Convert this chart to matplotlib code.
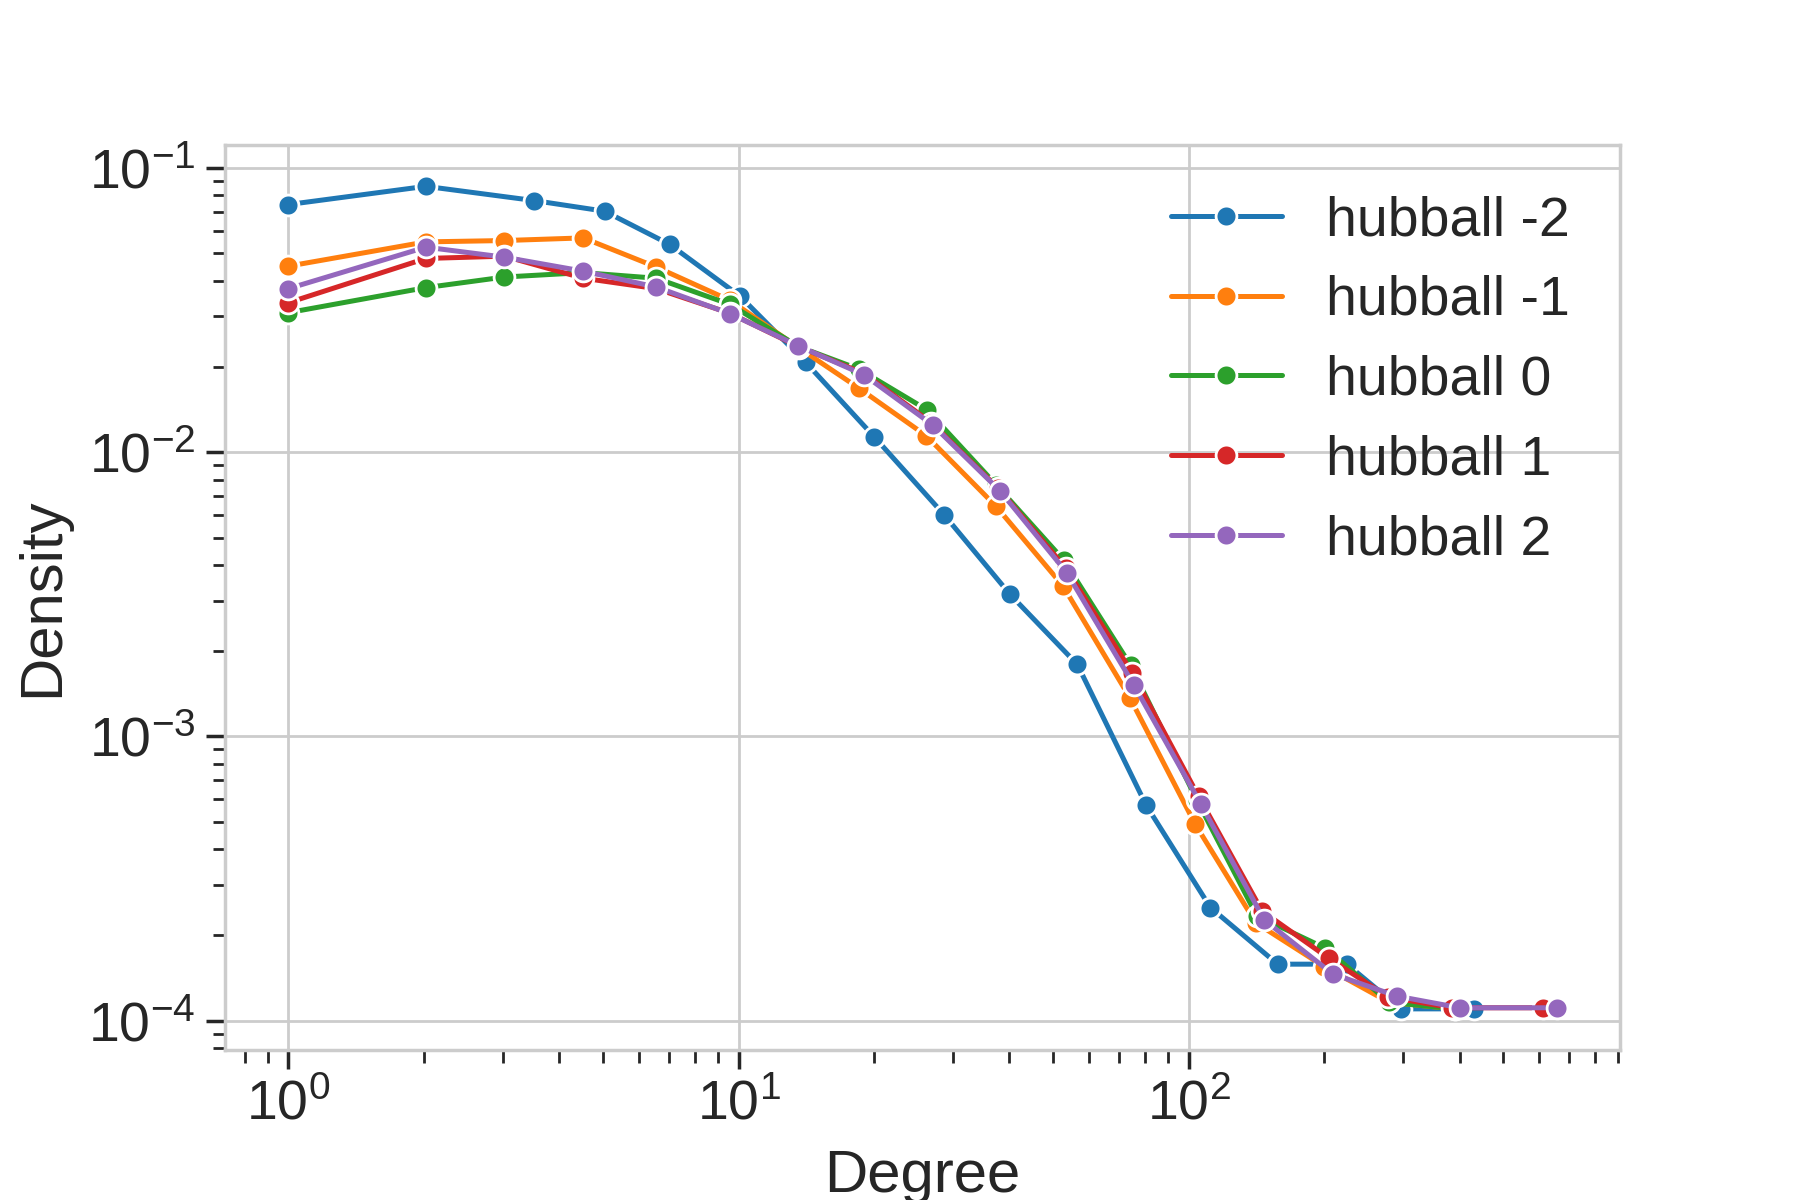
import matplotlib
matplotlib.use("Agg")
import matplotlib.pyplot as plt

# degree bins / density per hubball setting
deg_m2 = [1, 2.02, 3.52, 5.04, 7.03, 10.07, 14.1, 20.0, 28.6, 40.1, 56.6, 80.5, 111.8, 157.7, 224.8, 296, 431]
den_m2 = [0.0743, 0.0861, 0.0767, 0.0704, 0.0538, 0.0354, 0.0207, 0.01134, 0.00603, 0.00316, 0.00179,
          0.000572, 0.00025, 0.000158, 0.000158, 0.00011, 0.00011]

deg_m1 = [1, 2.02, 3.02, 4.52, 6.56, 9.57, 13.6, 18.5, 26.1, 37.3, 52.6, 74.0, 103.5, 141, 200, 279, 390]
den_m1 = [0.0451, 0.0549, 0.0555, 0.0567, 0.0448, 0.0342, 0.0233, 0.0168, 0.01143, 0.00646, 0.00338,
          0.00137, 0.00049, 0.000221, 0.000155, 0.000116, 0.00011]

deg_0 = [1, 2.02, 3.02, 4.52, 6.56, 9.57, 13.6, 18.5, 26.2, 37.3, 52.8, 74.3, 104.2, 141.7, 201, 279, 390]
den_0 = [0.03095, 0.0379, 0.0413, 0.0428, 0.0409, 0.0331, 0.0235, 0.0196, 0.0141, 0.00769, 0.00417,
         0.00178, 0.000599, 0.000234, 0.00018, 0.000116, 0.00011]

deg_1 = [1, 2.02, 3.02, 4.52, 6.56, 9.57, 13.6, 19.0, 26.8, 37.8, 53.4, 75.0, 105.2, 145.6, 204.6, 278, 384.6, 614]
den_1 = [0.03355, 0.048, 0.0489, 0.0409, 0.0376, 0.0308, 0.0235, 0.0189, 0.0127, 0.00745, 0.0039,
         0.00167, 0.000616, 0.000243, 0.000166, 0.000121, 0.000111, 0.000111]

deg_2 = [1, 2.02, 3.02, 4.52, 6.56, 9.57, 13.57, 19.0, 27.0, 38.1, 53.6, 75.5, 106.6, 147.3, 208.9, 290, 400, 657]
den_2 = [0.0376, 0.0526, 0.0485, 0.0433, 0.0381, 0.0307, 0.02365, 0.0187, 0.01246, 0.00731, 0.00377,
         0.00152, 0.000576, 0.000226, 0.000146, 0.000122, 0.000111, 0.000111]

labels = ['hubball -2', 'hubball -1', 'hubball 0', 'hubball 1', 'hubball 2']
colors = ['#1f77b4', '#ff7f0e', '#2ca02c', '#d62728', '#9467bd']

plt.rcParams['font.family'] = ['Liberation Sans', 'DejaVu Sans']
plt.rcParams['text.color'] = '#262626'
plt.rcParams['axes.labelcolor'] = '#262626'
plt.rcParams['xtick.color'] = '#262626'
plt.rcParams['ytick.color'] = '#262626'
plt.rcParams['lines.solid_capstyle'] = 'round'

fig = plt.figure(figsize=(9, 6), dpi=200)
ax = fig.add_axes([0.125, 0.125, 0.775, 0.754])

series = [(deg_m2, den_m2), (deg_m1, den_m1), (deg_0, den_0), (deg_1, den_1), (deg_2, den_2)]
for (x, y), lab, c in zip(series, labels, colors):
    ax.plot(x, y, color=c, lw=1.8, marker='o', ms=7.5, mec='white', mew=1.0, label=lab)

ax.set_xscale('log')
ax.set_yscale('log')
ax.set_xlabel('Degree', fontsize=21.6, labelpad=6.5)
ax.set_ylabel('Density', fontsize=21.6, labelpad=6.5)

ax.grid(True, which='major', color='#cccccc', lw=1)
ax.set_axisbelow(True)
for s in ax.spines.values():
    s.set_color('#cccccc')
    s.set_linewidth(1.25)
ax.tick_params(which='major', length=7, width=1.25, labelsize=20)
ax.tick_params(which='minor', length=4.5, width=1)

ax.legend(loc='upper right', frameon=False, fontsize=20)

plt.savefig('out.png', dpi=200)
